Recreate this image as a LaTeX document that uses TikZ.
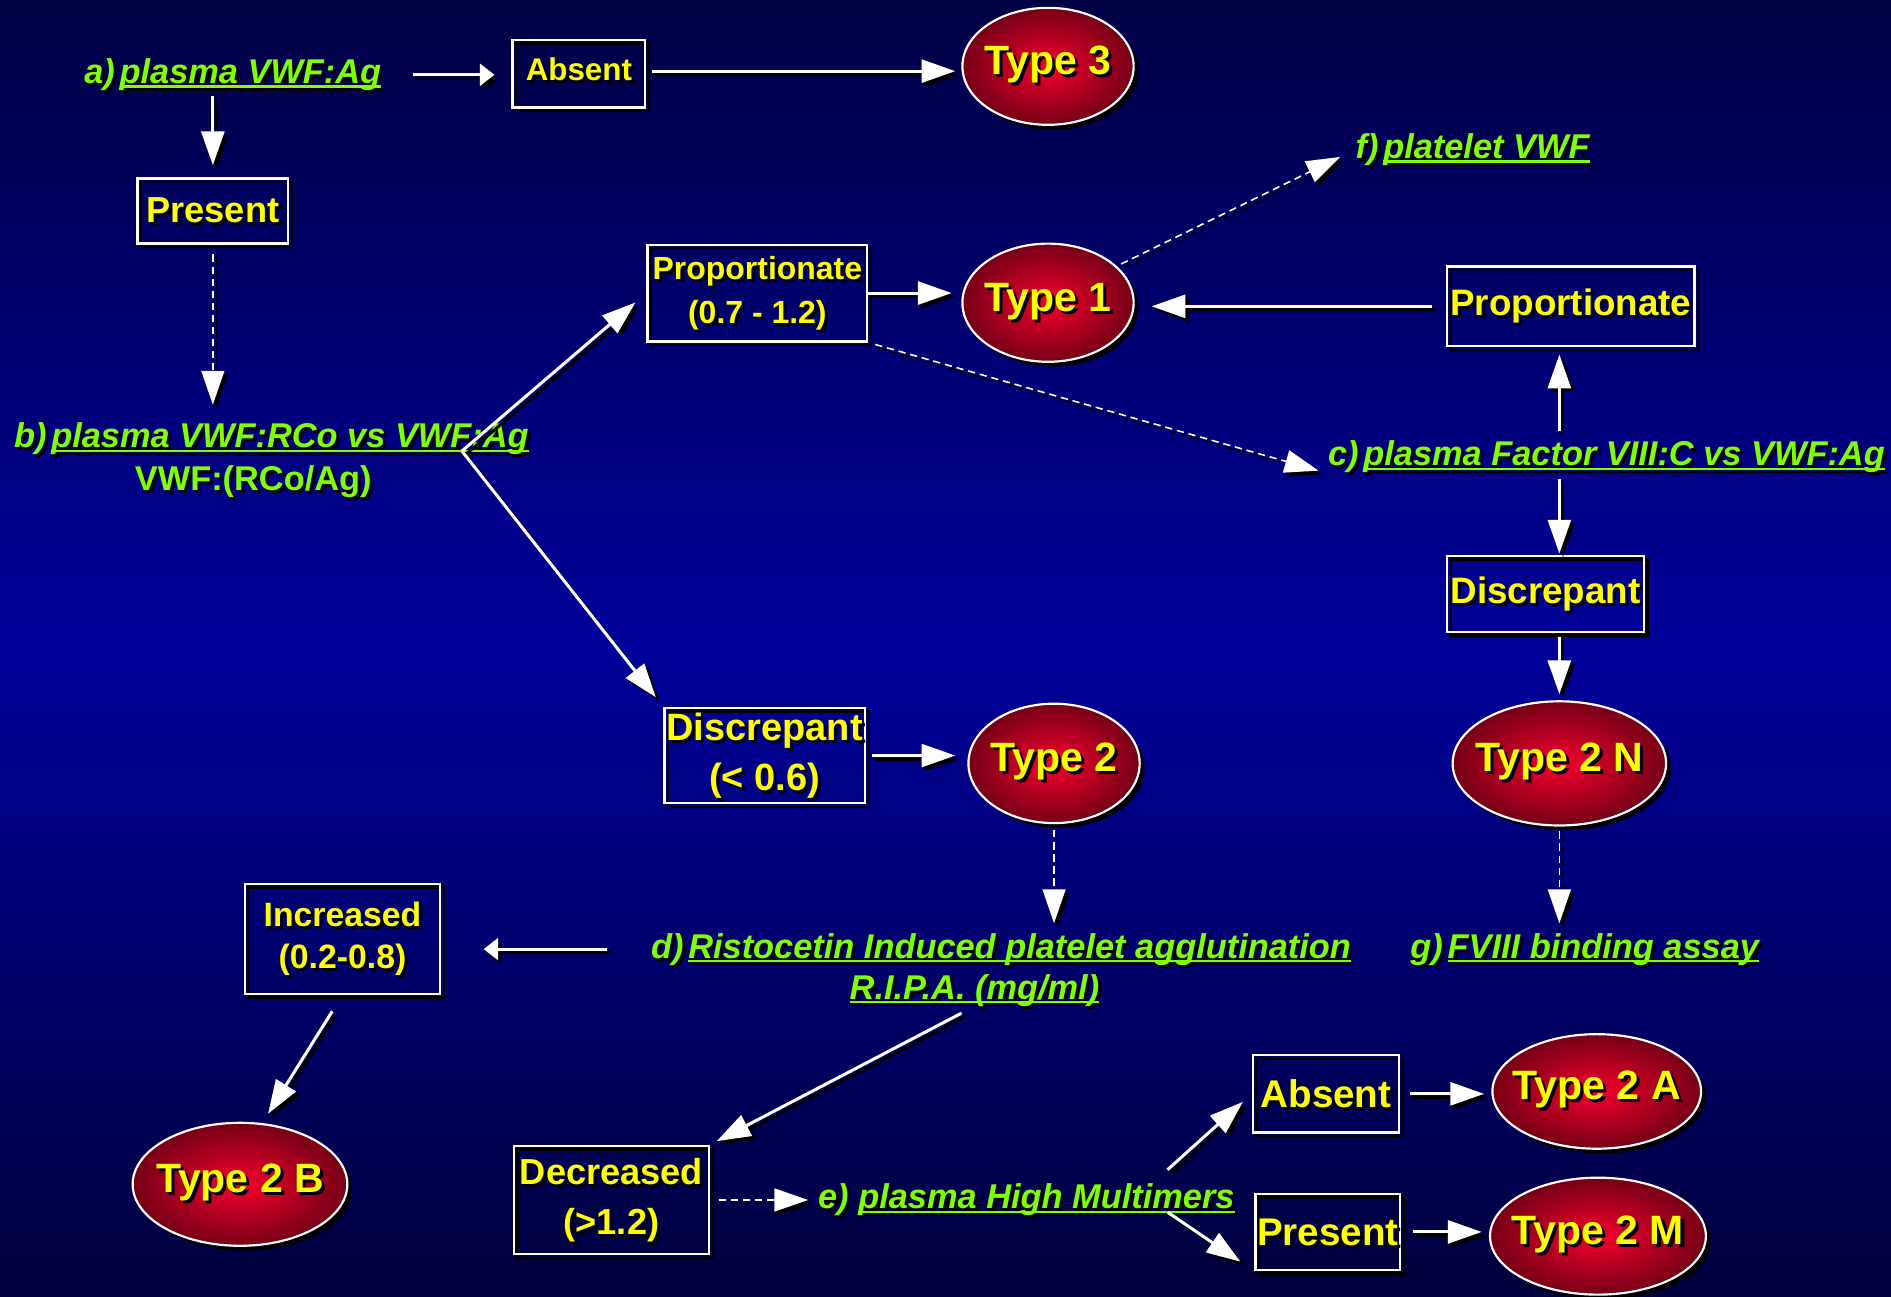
\documentclass[tikz,border=0pt]{standalone}
\usepackage{fontspec}
\setmainfont{Liberation Sans}
\usetikzlibrary{arrows.meta,shapes.geometric,shadows,calc}

\definecolor{Yel}{RGB}{255,255,0}
\definecolor{Grn}{RGB}{128,255,0}
\definecolor{bgTop}{RGB}{0,0,68}
\definecolor{bgMid}{RGB}{0,0,154}
\definecolor{bgBot}{RGB}{0,0,60}
\definecolor{ovIn}{RGB}{245,0,45}
\definecolor{ovOut}{RGB}{118,0,22}

% font size helper
\newcommand\fsz[2]{\fontsize{#1}{#2}\selectfont}
% text with a black drop shadow
\newcommand\sh[1]{\rlap{\color{black}\kern2.5pt\raisebox{-2.5pt}[0pt][0pt]{#1}}#1}
% underline drawn as a rule in the current colour
\newcommand\ulin[1]{\setbox0=\hbox{#1}\rlap{\rule[-0.12em]{\wd0}{0.07em}}\box0}
% centred text inside the ovals, taking no room
\newcommand\otext[1]{\raisebox{-7pt}[0pt][0pt]{\makebox[0pt]{\sh{#1}}}}
% connector with its black shadow
\newcommand\link[2][]{%
  \draw[conn,#1,draw=black,transform canvas={shift={(3pt,-3pt)}}] #2;
  \draw[conn,#1] #2;}

\tikzset{
  tbox/.style={draw=white, line width=2pt, inner sep=0pt, text=Yel, align=center,
    general shadow={draw=black, line width=2pt, shadow xshift=3pt, shadow yshift=-3pt}},
  oval/.style={ellipse, draw=white, line width=1.8pt, inner sep=0pt,
    inner color=ovIn, outer color=ovOut, text=Yel, font=\bfseries\fsz{34}{40},
    general shadow={fill=black, shadow xshift=4pt, shadow yshift=-4pt}},
  lab/.style={text=Grn, inner sep=0pt, font=\bfseries\itshape\fsz{28.5}{34}},
  conn/.style={draw=white, line width=2.5pt, -{Triangle[length=28pt,width=19pt]}},
  dashlink/.style={line width=1.3pt, dash pattern=on 6pt off 4pt},
  smallhead/.style={-{Triangle[length=12pt,width=18pt]}},
}

\begin{document}
\begin{tikzpicture}[x=1pt,y=-1pt]
\useasboundingbox (0,0) rectangle (1568,1075);
\shade[top color=bgTop, bottom color=bgBot, middle color=bgMid] (0,0) rectangle (1568,1075);

% decision boxes
\node[tbox, minimum width=110, minimum height=56, font=\bfseries\fsz{26}{31}] (absA) at (480,61) {\raisebox{7pt}{\sh{Absent}}};
\node[tbox, minimum width=125, minimum height=54, font=\bfseries\fsz{30}{36}] (presA) at (176.5,175) {\raisebox{2pt}{\sh{Present}}};
\node[tbox, minimum width=182, minimum height=80, font=\bfseries\fsz{26.5}{37}] (propL) at (628,243) {\sh{Proportionate}\\\sh{(0.7 - 1.2)}};
\node[tbox, minimum width=205, minimum height=66, font=\bfseries\fsz{30.5}{36}] (propR) at (1302.5,254) {\sh{Proportionate}};
\node[tbox, minimum width=163, minimum height=63, font=\bfseries\fsz{30.5}{36}] (discR) at (1281.5,492.5) {\sh{Discrepant}};
\node[tbox, minimum width=166, minimum height=79, font=\bfseries\fsz{31.5}{41}] (discL) at (634,626.5) {\sh{Discrepant}\\\sh{(< 0.6)}};
\node[tbox, minimum width=162, minimum height=91, font=\bfseries\fsz{28}{35}] (incr) at (284,778.5) {\sh{Increased}\\\sh{(0.2-0.8)}};
\node[tbox, minimum width=162, minimum height=90, font=\bfseries\fsz{30}{42}] (decr) at (507,995) {\sh{Decreased}\\\sh{(>1.2)}};
\node[tbox, minimum width=121, minimum height=64, font=\bfseries\fsz{32}{38}] (absB) at (1099.5,907) {\sh{Absent}};
\node[tbox, minimum width=120, minimum height=63, font=\bfseries\fsz{32}{38}] (presB) at (1101,1021.5) {\sh{Present}};

% diagnoses
\node[oval, minimum width=142, minimum height=97] (t3) at (869,55) {\otext{Type 3}};
\node[oval, minimum width=142, minimum height=98] (t1) at (869,251) {\otext{Type 1}};
\node[oval, minimum width=142, minimum height=99] (t2) at (874,633) {\otext{Type 2}};
\node[oval, minimum width=177, minimum height=103] (t2n) at (1293,633) {\otext{Type 2 N}};
\node[oval, minimum width=178, minimum height=102] (t2b) at (199,982) {\otext{Type 2 B}};
\node[oval, minimum width=173, minimum height=95] (t2a) at (1324,905) {\otext{Type 2 A}};
\node[oval, minimum width=179, minimum height=97] (t2m) at (1325,1025) {\otext{Type 2 M}};

% tests
\node[lab] (la) at (193,62) {\sh{a)\kern4pt\ulin{plasma VWF:Ag}}};
\node[lab] (lb) at (225,364) {\sh{b)\kern4pt\ulin{plasma VWF:RCo vs VWF:Ag}}};
\node[lab, font=\bfseries\fsz{28.5}{34}] (lb2) at (210,399) {\sh{VWF:(RCo/Ag)}};
\node[lab] (lc) at (1332,379) {\sh{c)\kern4pt\ulin{plasma Factor VIII:C vs VWF:Ag}}};
\node[lab] (ld) at (830,787) {\sh{d)\kern4pt\ulin{Ristocetin Induced platelet agglutination}}};
\node[lab] (ld2) at (808,821) {\sh{\ulin{R.I.P.A. (mg/ml)}}};
\node[lab] (le) at (851,995) {\sh{e)\kern8pt\ulin{plasma High Multimers}}};
\node[lab] (lf) at (1221,124) {\sh{f)\kern4pt\ulin{platelet VWF}}};
\node[lab] (lg) at (1314,787) {\sh{g)\kern4pt\ulin{FVIII binding assay}}};

% branching points
\coordinate (bfork) at (383,374);
\coordinate (eup) at (968,970);
\coordinate (edn) at (968,1005);

% connectors
\link[smallhead, shorten <=26pt, shorten >=14pt]{(la.east) -- (la.east -| absA.west)}
\link[shorten <=5pt, shorten >=5pt]{([yshift=2pt]absA.east) -- ([yshift=2pt]absA.east -| t3.west)}
\link[shorten <=4pt, shorten >=10pt]{(la.south -| presA.north) -- (presA.north)}
\link[dashlink, shorten <=8pt, shorten >=15pt]{(presA.south) -- (presA.south |- lb.north)}
\link[shorten >=12pt]{(bfork) -- (propL.west)}
\link[shorten >=10pt]{(bfork) -- (discL.north west)}
\link[shorten >=8pt]{(propL.east) -- (propL.east -| t1.west)}
\link[dashlink, shorten <=4pt, shorten >=14pt]{(t1.28) -- (lf.west)}
\link[dashlink, shorten <=6pt, shorten >=8pt]{(propL.south east) -- (lc.south west)}
\link[shorten <=12pt, shorten >=14pt]{(propR.west) -- (propR.west -| t1.east)}
\link[shorten <=8pt, shorten >=6pt]{(t2n.center |- lc.north) -- (t2n.center |- propR.south)}
\link[shorten <=5pt, shorten >=1pt]{(t2n.center |- lc.south) -- (t2n.center |- discR.north)}
\link[shorten <=3pt, shorten >=5pt]{(t2n.center |- discR.south) -- (t2n.north)}
\link[dashlink, shorten <=4pt, shorten >=8pt]{(t2n.south) -- (t2n.south |- lg.north)}
\link[shorten <=5pt, shorten >=10pt]{(discL.east) -- (discL.east -| t2.west)}
\link[dashlink, shorten <=5pt, shorten >=8pt]{(t2.south) -- (t2.south |- ld.north)}
\link[smallhead, shorten <=36pt, shorten >=35pt]{(ld.west) -- (ld.west -| incr.east)}
\link[shorten <=16pt, shorten >=9pt]{(incr.south) -- (t2b.70)}
\link[shorten <=12pt, shorten >=6pt]{(ld2.south) -- (decr.north east)}
\link[dashlink, shorten <=7pt, shorten >=8pt]{(decr.east) -- (decr.east -| le.west)}
\link[shorten >=10pt]{(eup) -- (absB.west)}
\link[shorten >=14pt]{(edn) -- (presB.south west)}
\link[shorten <=8pt, shorten >=6pt]{(absB.east) -- (absB.east -| t2a.west)}
\link[shorten <=10pt, shorten >=6pt]{(presB.east) -- (presB.east -| t2m.west)}
\end{tikzpicture}
\end{document}
